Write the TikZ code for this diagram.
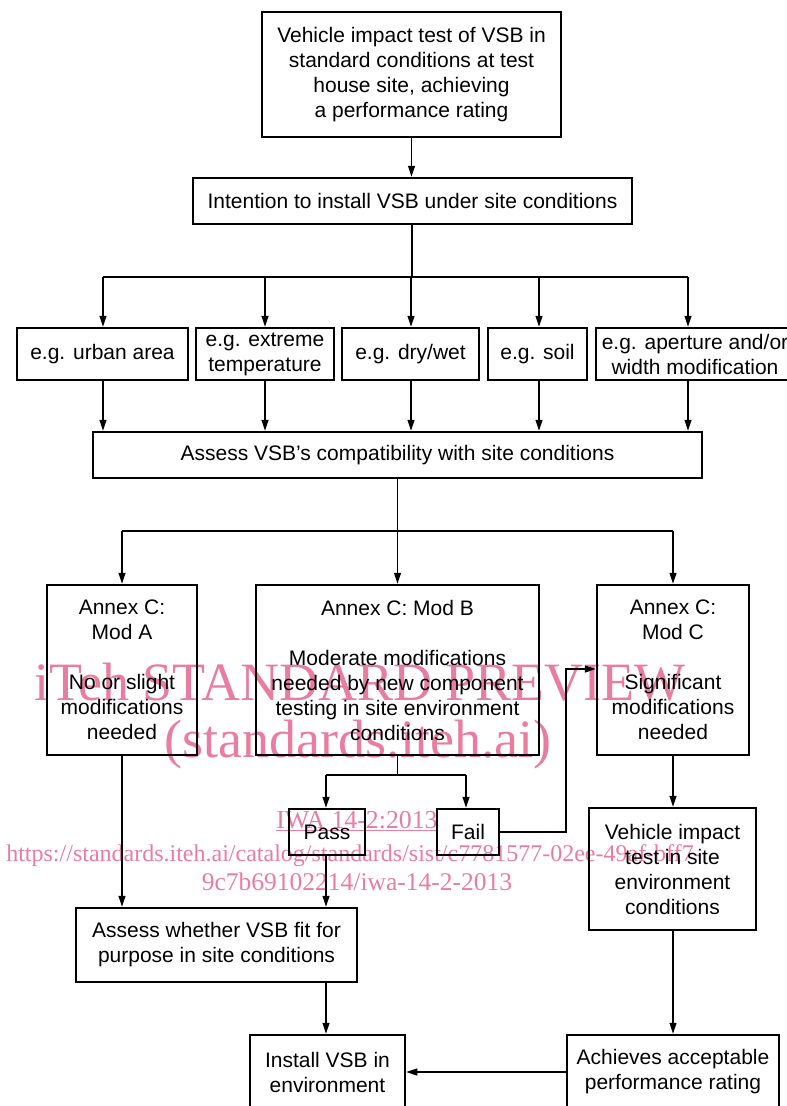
\documentclass[tikz,border=0pt]{standalone}
\usepackage{fontspec}
\usepackage{graphicx}
\setmainfont{Liberation Sans}
\newfontfamily\wmfont{Liberation Serif}
\usetikzlibrary{arrows.meta}
\definecolor{wmpink}{RGB}{233,125,160}
\begin{document}
\begin{tikzpicture}[x=1pt,y=-1pt,
  box/.style={draw, line width=2.5pt, inner sep=0pt, align=center, font=\fontsize{21}{25}\selectfont},
  arr/.style={line width=1.2pt, -{Triangle[length=11pt,width=7pt]}},
  ln/.style={line width=1.2pt},
  wm/.style={text=wmpink, inner sep=0pt, anchor=base}]
\useasboundingbox (0,0) rectangle (787,1106);
\clip (0,0) rectangle (787,1106);
% watermark (behind)
\node[wm, font=\wmfont\fontsize{54}{54}\selectfont] (wm1) at (360,700) {iTeh STANDARD PREVIEW};
\node[wm, font=\wmfont\fontsize{54}{54}\selectfont] (wm2) at (358,757) {(standards.iteh.ai)};
\node[wm, font=\wmfont\fontsize{25.8}{26}\selectfont] (wm3) at (357,828) {\underline{IWA 14-2:2013}};
\node[wm, font=\wmfont\fontsize{24}{24}\selectfont] (wm4) at (354,861) {https://standards.iteh.ai/catalog/standards/sist/c7781577-02ee-49af-bff7-};
\node[wm, font=\wmfont\fontsize{25.5}{26}\selectfont] (wm5) at (357,890) {9c7b69102214/iwa-14-2-2013};
% boxes
\node[box, minimum width=299pt, minimum height=125pt] (top) at (411.5,74.5) {Vehicle impact test of VSB in\\standard conditions at test\\house site, achieving\\a performance rating};
\node[box, minimum width=439pt, minimum height=46pt] (intent) at (412.5,201) {Intention to install VSB under site conditions};
\node[box, minimum width=171pt, minimum height=52pt] (urban) at (102.5,354) {e.g. urban area};
\node[box, minimum width=138pt, minimum height=52pt] (extreme) at (265,354) {e.g. extreme\\temperature};
\node[box, minimum width=137pt, minimum height=52pt] (drywet) at (410.5,354) {e.g. dry/wet};
\node[box, minimum width=99pt, minimum height=52pt] (soil) at (537.5,354) {e.g. soil};
\node[box, minimum width=198pt, minimum height=52pt] (aperture) at (695,354) {e.g. aperture and/or\\width modification};
\node[box, minimum width=609pt, minimum height=46pt] (assess) at (397.5,455) {Assess VSB's compatibility with site conditions};
\node[box, minimum width=150pt, minimum height=170pt] (modA) at (122,670) {Annex C:\\Mod A\\[25pt]No or slight\\modifications\\needed};
\node[box, minimum width=283pt, minimum height=170pt] (modB) at (397.5,670) {Annex C: Mod B\\[25pt]Moderate modifications\\needed by new component\\testing in site environment\\conditions};
\node[box, minimum width=152pt, minimum height=170pt] (modC) at (673,670) {Annex C:\\Mod C\\[25pt]Significant\\modifications\\needed};
\node[box, minimum width=76pt, minimum height=46pt] (pass) at (327,832) {Pass};
\node[box, minimum width=62pt, minimum height=46pt] (fail) at (468,832) {Fail};
\node[box, minimum width=167pt, minimum height=122pt] (vit) at (672.5,869) {Vehicle impact\\test in site\\environment\\conditions};
\node[box, minimum width=281pt, minimum height=74pt] (fit) at (216.5,945) {Assess whether VSB fit for\\purpose in site conditions};
\node[box, minimum width=155pt, minimum height=74pt] (install) at (327.5,1072) {Install VSB in\\environment};
\node[box, minimum width=212pt, minimum height=74pt] (achieves) at (673,1072) {Achieves acceptable\\performance rating};
% coordinates
\coordinate (c1) at (103,277);
\coordinate (c2) at (265,277);
\coordinate (c3) at (411,277);
\coordinate (c4) at (539,277);
\coordinate (c5) at (688,277);
\coordinate (cm) at (412,277);
\coordinate (d1) at (122,531);
\coordinate (dm) at (397.5,531);
\coordinate (d3) at (673,531);
\coordinate (e1) at (326,775);
\coordinate (em) at (397.5,775);
\coordinate (e2) at (466,775);
\coordinate (f1) at (566,832);
\coordinate (f2) at (566,669);
% connectors
\draw[arr] (top.south) -- (top.south |- intent.north);
\draw[ln] (intent.south -| cm) -- (cm);
\draw[ln] (c1) -- (c5);
\foreach \n/\c in {urban/c1, extreme/c2, drywet/c3, soil/c4, aperture/c5} {
  \draw[arr] (\c) -- (\c |- \n.north);
  \draw[arr] (\c |- \n.south) -- (\c |- assess.north);
}
\draw[ln] (assess.south -| dm) -- (dm);
\draw[ln] (d1) -- (d3);
\draw[arr] (d1) -- (d1 |- modA.north);
\draw[arr] (dm) -- (dm |- modB.north);
\draw[arr] (d3) -- (d3 |- modC.north);
\draw[ln] (modB.south -| em) -- (em);
\draw[ln] (e1) -- (e2);
\draw[arr] (e1) -- (e1 |- pass.north);
\draw[arr] (e2) -- (e2 |- fail.north);
\draw[arr] (fail.east |- f1) -- (f1) -- (f2) -- (modC.west |- f2);
\draw[arr] (pass.south -| e1) -- (fit.north -| e1);
\draw[arr] (modA.south -| d1) -- (fit.north -| d1);
\draw[arr] (fit.south -| e1) -- (install.north -| e1);
\draw[arr] (modC.south -| d3) -- (vit.north -| d3);
\draw[arr] (vit.south -| d3) -- (achieves.north -| d3);
\draw[arr] (achieves.west) -- (install.east);
\end{tikzpicture}
\end{document}
